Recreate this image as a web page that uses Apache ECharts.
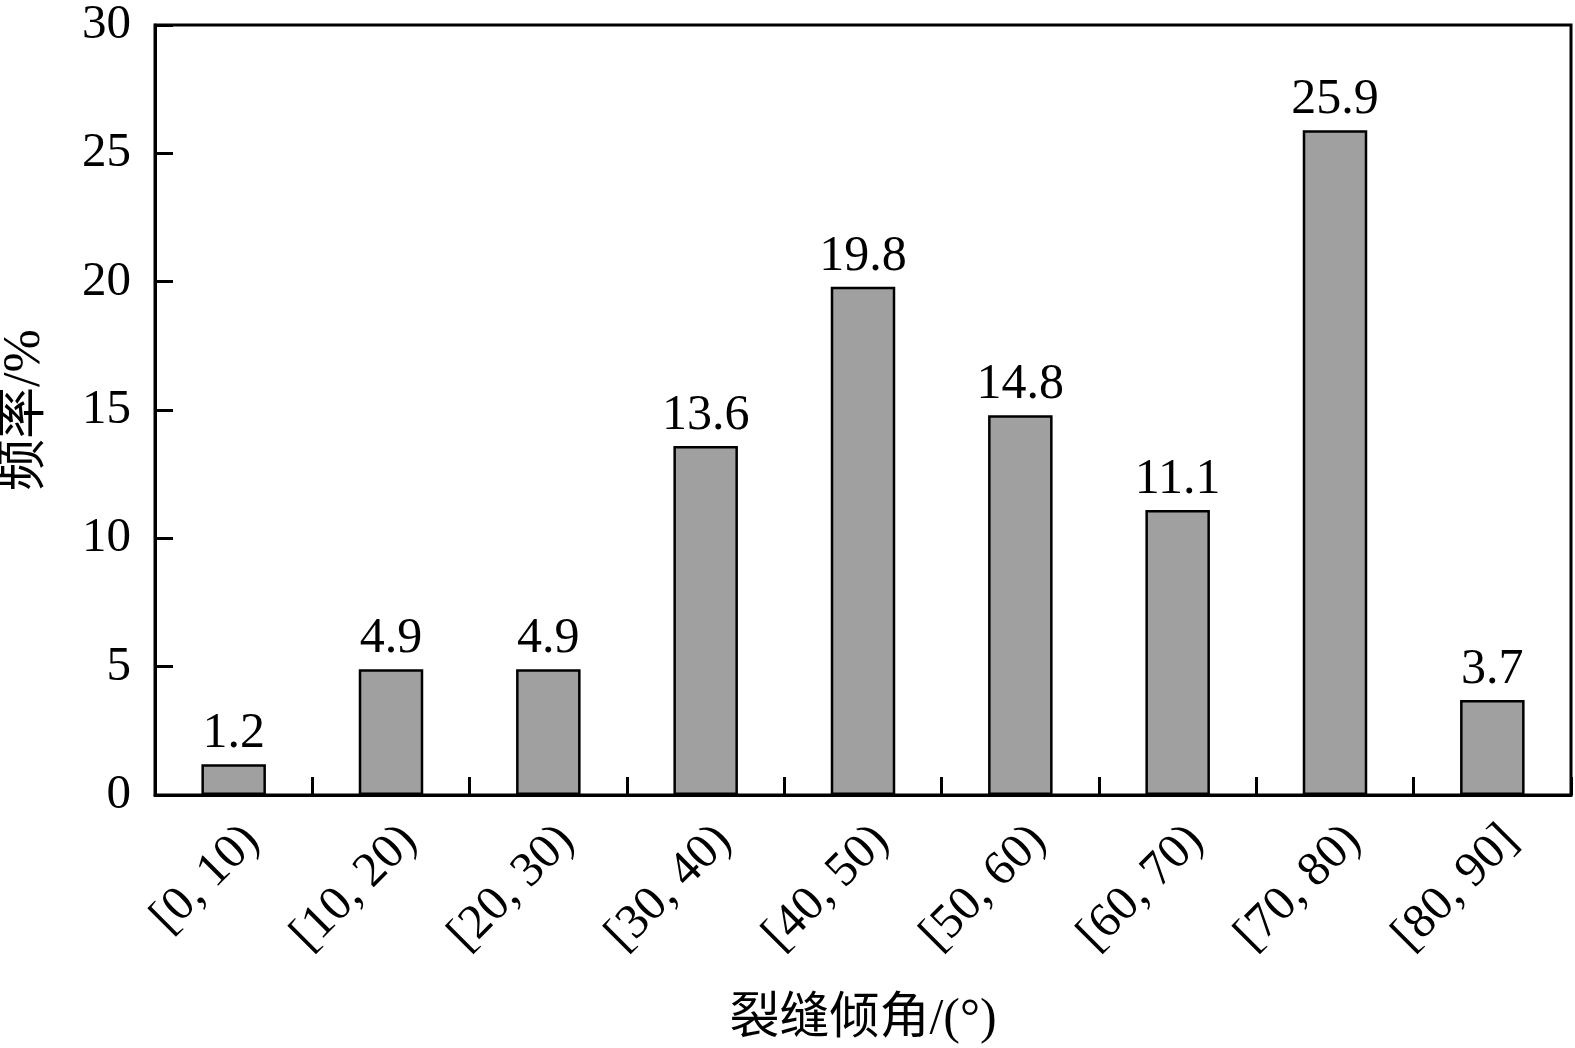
<!DOCTYPE html>
<html lang="zh">
<head>
    <meta charset="UTF-8">
    <title>裂缝倾角频率</title>
    <script src="https://cdn.jsdelivr.net/npm/echarts@6/dist/echarts.min.js"></script>
    <style>
        html, body { margin: 0; padding: 0; background: #fff; }
        #main { width: 1575px; height: 1048px; }
    </style>
</head>
<body>
<div id="main"></div>
<script>
    // 横坐标分组（裂缝倾角区间）
    var categories = ['[0, 10)', '[10, 20)', '[20, 30)', '[30, 40)', '[40, 50)',
                      '[50, 60)', '[60, 70)', '[70, 80)', '[80, 90]'];
    // 频率 %
    var values = [1.2, 4.9, 4.9, 13.6, 19.8, 14.8, 11.1, 25.9, 3.7];
    // 纵轴刻度
    var yTicks = [0, 5, 10, 15, 20, 25, 30];

    var serif = '"Liberation Serif", "Times New Roman", "Noto Sans CJK SC", serif';
    var myChart = echarts.init(document.getElementById('main'));

    myChart.setOption({
        animation: false,
        backgroundColor: '#fff',
        grid: {
            left: 155, right: 4, top: 25, bottom: 253,
            outerBoundsMode: 'none',
            containLabel: false,
            show: true,
            borderColor: '#000',
            borderWidth: 3
        },
        xAxis: {
            type: 'category',
            data: categories,
            name: '裂缝倾角/(°)',
            nameLocation: 'middle',
            nameGap: 200,
            nameTextStyle: { fontFamily: serif, fontSize: 50, color: '#000' },
            axisLine: { lineStyle: { color: '#000', width: 3 } },
            axisTick: {
                show: true, inside: true, length: 18, alignWithLabel: false,
                lineStyle: { color: '#000', width: 3 }
            },
            axisLabel: {
                rotate: 45,
                margin: 20,
                align: 'right',
                verticalAlign: 'top',
                lineHeight: 52,
                fontFamily: serif,
                fontSize: 49,
                color: '#000'
            },
            splitLine: { show: false }
        },
        yAxis: {
            type: 'value',
            min: yTicks[0],
            max: yTicks[yTicks.length - 1],
            interval: yTicks[1] - yTicks[0],
            name: '频率/%',
            nameLocation: 'middle',
            nameGap: 104,
            nameTextStyle: { fontFamily: serif, fontSize: 52, color: '#000' },
            axisLine: { show: true, lineStyle: { color: '#000', width: 3 } },
            axisTick: { show: true, inside: true, length: 18, lineStyle: { color: '#000', width: 3 } },
            axisLabel: { margin: 24, fontFamily: serif, fontSize: 49, color: '#000' },
            splitLine: { show: false }
        },
        series: [{
            type: 'bar',
            data: values,
            barWidth: '41%',
            itemStyle: {
                color: '#a0a0a0',
                borderColor: '#000',
                borderWidth: 2.5
            },
            label: {
                show: true,
                position: 'top',
                distance: 5,
                fontFamily: serif,
                fontSize: 50,
                color: '#000'
            }
        }]
    });
</script>
</body>
</html>
